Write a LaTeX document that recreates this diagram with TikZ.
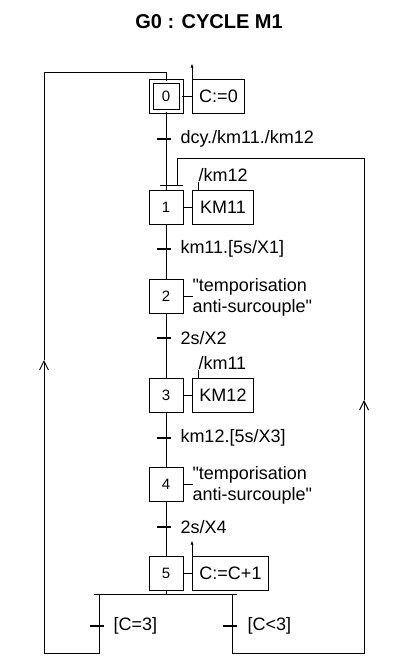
\documentclass[tikz,border=0pt]{standalone}
\usepackage{fontspec}
\setmainfont{Liberation Sans}[Ligatures=TeXOff]
\usepackage{tikz}
\usetikzlibrary{arrows.meta,calc}

\begin{document}
\begin{tikzpicture}[x=1pt,y=-1pt,line width=1pt]
        \useasboundingbox (0,0) rectangle (415,672);

        \edef\sizestep{34pt}
        \tikzstyle{gstep}=[draw,minimum size=\sizestep,inner sep=0pt,font=\fontsize{15}{18}\selectfont]
        \tikzstyle{ginit}=[gstep,double,double distance=3pt,minimum size=30pt]
        \tikzstyle{gaction}=[draw,minimum height=\sizestep,inner sep=0pt,anchor=west,font=\fontsize{18}{21}\selectfont]
        \tikzstyle{gtext}=[anchor=west,align=left,inner sep=0pt,font=\fontsize{18}{21}\selectfont]
        \tikzstyle{glabel}=[anchor=west,inner sep=0pt,font=\fontsize{18}{21}\selectfont]
        \tikzstyle{gtick}=[line width=2pt]
        \tikzstyle{gup}=[-{Straight Barb[length=9pt,width=9pt]}]
        \tikzstyle{gact}=[-{Latex[length=4pt,width=3pt]}]

        %% Title
        \node[font=\bfseries\fontsize{20}{24}\selectfont] (title) at (209,22) {G0 : CYCLE M1};

        %% Steps and actions
        \node[ginit] (s0) at (166,96) {0};
        \node[gaction,minimum width=52pt] (a0) at (192,96) {C:=0};
        \node[gstep] (s1) at (166,207) {1};
        \node[gaction,minimum width=61pt] (a1) at (192,207) {KM11};
        \node[gstep] (s2) at (166,296) {2};
        \node[gtext] (a2) at (192,297) {"temporisation\\anti-surcouple"};
        \node[gstep] (s3) at (166,395) {3};
        \node[gaction,minimum width=61pt] (a3) at (192,395) {KM12};
        \node[gstep] (s4) at (166,484) {4};
        \node[gtext] (a4) at (192,485) {"temporisation\\anti-surcouple"};
        \node[gstep] (s5) at (166,573) {5};
        \node[gaction,minimum width=76pt] (a5) at (192,573) {C:=C+1};

        \foreach \i in {0,1,3,5} {
            \draw (s\i.east) -- (a\i.west);
        }
        \draw (s2.east) -- ++(9,0);
        \draw (s4.east) -- ++(9,0);

        %% Actions going up
        \draw[gact] (a0.north west) -- ++(0,-15);
        \draw[gact] (a5.north west) -- ++(0,-15);

        %% Conditions on actions
        \draw (a1.north west) ++(6,0) -- ++(0,-8) node[glabel,anchor=base west] (q1) {/km12};
        \draw (a3.north west) ++(6,0) -- ++(0,-8) node[glabel,anchor=base west] (q3) {/km11};

        %% Transitions
        \coordinate (t0) at (166,139);
        \coordinate (t1) at (166,249);
        \coordinate (t2) at (166,338);
        \coordinate (t3) at (166,438);
        \coordinate (t4) at (166,527);
        \coordinate (t5a) at (99,626);
        \coordinate (t5b) at (232,626);

        \coordinate (j1) at ([yshift=4pt]s1.north);
        \coordinate (j1b) at ([xshift=11pt]j1);
        \coordinate (d5) at ([yshift=-4pt]s5.south);
        \coordinate (bl) at (t5a |- d5);
        \coordinate (br) at (t5b |- d5);

        \draw (s0) -- (s1);
        \draw (s1) -- (s2);
        \draw (s2) -- (s3);
        \draw (s3) -- (s4);
        \draw (s4) -- (s5);
        \draw (s5.south) -- (d5);

        \foreach \t in {t0,t1,t2,t3,t4,t5a,t5b} {
            \draw[gtick] ([xshift=-9pt]\t) -- ([xshift=5pt]\t);
        }
        \node[glabel] (l0) at ([xshift=14pt]t0) {dcy./km11./km12};
        \node[glabel] (l1) at ([xshift=14pt]t1) {km11.[5s/X1]};
        \node[glabel] (l2) at ([xshift=14pt]t2) {2s/X2};
        \node[glabel] (l3) at ([xshift=14pt]t3) {km12.[5s/X3]};
        \node[glabel] (l4) at ([xshift=14pt]t4) {2s/X4};
        \node[glabel] (l5a) at ([xshift=14pt]t5a) {[C=3]};
        \node[glabel] (l5b) at ([xshift=15pt]t5b) {[C<3]};

        %% Convergence on step 1, divergence under step 5
        \draw ([xshift=-6pt]j1) -- ([xshift=17pt]j1);
        \draw ([xshift=-72pt]d5) -- ([xshift=71pt]d5);

        %% Loops back
        \coordinate (lb) at (44,653);
        \coordinate (la) at (44,360);
        \coordinate (lt) at (44,72);
        \draw[gup] (bl) |- (lb) -- (la);
        \draw (la) -- (lt) -| (s0.north);

        \coordinate (rb) at (364,653);
        \coordinate (ra) at (364,400);
        \coordinate (rt) at (364,158);
        \draw[gup] (br) |- (rb) -- (ra);
        \draw (ra) -- (rt) -| (j1b);

    \end{tikzpicture}
\end{document}
